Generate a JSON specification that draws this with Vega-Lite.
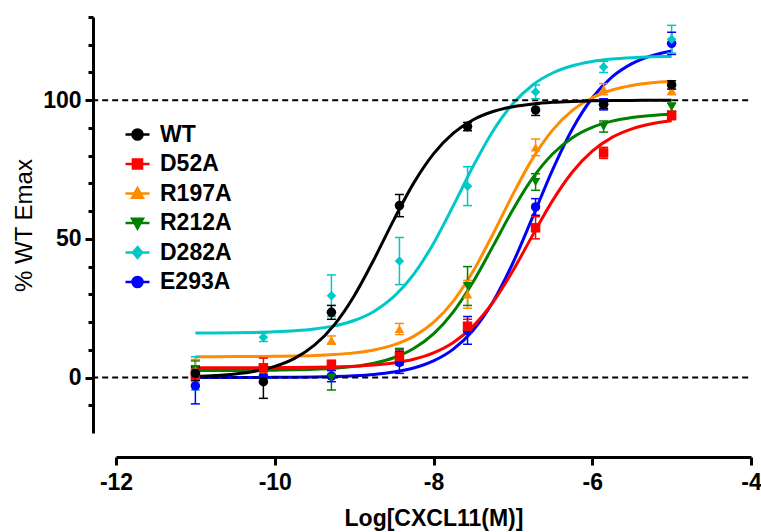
{
  "$schema": "https://vega.github.io/schema/vega-lite/v6.json",
  "width": 635,
  "height": 416,
  "autosize": "none",
  "padding": {"left": 116, "top": 17, "right": 10, "bottom": 99},
  "background": "white",
  "config": {"view": {"stroke": null}, "font": "Liberation Sans", "axis": {"labelOverlap": false}},
  "datasets": {
    "curves": [
      {"series":"E293A","x":-11,"y":0.01},{"series":"E293A","x":-10.75,"y":0.01},{"series":"E293A","x":-10.5,"y":0.02},{"series":"E293A","x":-10.25,"y":0.04},{"series":"E293A","x":-10,"y":0.06},{"series":"E293A","x":-9.75,"y":0.11},{"series":"E293A","x":-9.5,"y":0.2},{"series":"E293A","x":-9.25,"y":0.35},{"series":"E293A","x":-9,"y":0.63},{"series":"E293A","x":-8.75,"y":1.11},{"series":"E293A","x":-8.5,"y":1.96},{"series":"E293A","x":-8.25,"y":3.44},{"series":"E293A","x":-8,"y":5.99},{"series":"E293A","x":-7.75,"y":10.24},{"series":"E293A","x":-7.5,"y":17.08},{"series":"E293A","x":-7.25,"y":27.35},{"series":"E293A","x":-7,"y":41.3},{"series":"E293A","x":-6.75,"y":57.92},{"series":"E293A","x":-6.5,"y":74.88},{"series":"E293A","x":-6.25,"y":89.63},{"series":"E293A","x":-6,"y":100.8},{"series":"E293A","x":-5.75,"y":108.38},{"series":"E293A","x":-5.5,"y":113.18},{"series":"E293A","x":-5.25,"y":116.06},{"series":"E293A","x":-5,"y":117.76},
      {"series":"D282A","x":-11,"y":16.05},{"series":"D282A","x":-10.75,"y":16.09},{"series":"D282A","x":-10.5,"y":16.15},{"series":"D282A","x":-10.25,"y":16.27},{"series":"D282A","x":-10,"y":16.48},{"series":"D282A","x":-9.75,"y":16.84},{"series":"D282A","x":-9.5,"y":17.49},{"series":"D282A","x":-9.25,"y":18.62},{"series":"D282A","x":-9,"y":20.57},{"series":"D282A","x":-8.75,"y":23.84},{"series":"D282A","x":-8.5,"y":29.15},{"series":"D282A","x":-8.25,"y":37.21},{"series":"D282A","x":-8,"y":48.37},{"series":"D282A","x":-7.75,"y":61.98},{"series":"D282A","x":-7.5,"y":76.22},{"series":"D282A","x":-7.25,"y":88.91},{"series":"D282A","x":-7,"y":98.72},{"series":"D282A","x":-6.75,"y":105.49},{"series":"D282A","x":-6.5,"y":109.8},{"series":"D282A","x":-6.25,"y":112.42},{"series":"D282A","x":-6,"y":113.95},{"series":"D282A","x":-5.75,"y":114.84},{"series":"D282A","x":-5.5,"y":115.34},{"series":"D282A","x":-5.25,"y":115.63},{"series":"D282A","x":-5,"y":115.79},
      {"series":"R212A","x":-11,"y":2.52},{"series":"R212A","x":-10.75,"y":2.53},{"series":"R212A","x":-10.5,"y":2.55},{"series":"R212A","x":-10.25,"y":2.59},{"series":"R212A","x":-10,"y":2.65},{"series":"R212A","x":-9.75,"y":2.77},{"series":"R212A","x":-9.5,"y":2.99},{"series":"R212A","x":-9.25,"y":3.36},{"series":"R212A","x":-9,"y":4.02},{"series":"R212A","x":-8.75,"y":5.17},{"series":"R212A","x":-8.5,"y":7.14},{"series":"R212A","x":-8.25,"y":10.44},{"series":"R212A","x":-8,"y":15.74},{"series":"R212A","x":-7.75,"y":23.69},{"series":"R212A","x":-7.5,"y":34.51},{"series":"R212A","x":-7.25,"y":47.39},{"series":"R212A","x":-7,"y":60.53},{"series":"R212A","x":-6.75,"y":71.96},{"series":"R212A","x":-6.5,"y":80.62},{"series":"R212A","x":-6.25,"y":86.5},{"series":"R212A","x":-6,"y":90.22},{"series":"R212A","x":-5.75,"y":92.45},{"series":"R212A","x":-5.5,"y":93.76},{"series":"R212A","x":-5.25,"y":94.51},{"series":"R212A","x":-5,"y":94.94},
      {"series":"R197A","x":-11,"y":7.51},{"series":"R197A","x":-10.75,"y":7.53},{"series":"R197A","x":-10.5,"y":7.54},{"series":"R197A","x":-10.25,"y":7.58},{"series":"R197A","x":-10,"y":7.64},{"series":"R197A","x":-9.75,"y":7.75},{"series":"R197A","x":-9.5,"y":7.95},{"series":"R197A","x":-9.25,"y":8.29},{"series":"R197A","x":-9,"y":8.89},{"series":"R197A","x":-8.75,"y":9.95},{"series":"R197A","x":-8.5,"y":11.78},{"series":"R197A","x":-8.25,"y":14.86},{"series":"R197A","x":-8,"y":19.88},{"series":"R197A","x":-7.75,"y":27.58},{"series":"R197A","x":-7.5,"y":38.38},{"series":"R197A","x":-7.25,"y":51.77},{"series":"R197A","x":-7,"y":66.05},{"series":"R197A","x":-6.75,"y":79.03},{"series":"R197A","x":-6.5,"y":89.21},{"series":"R197A","x":-6.25,"y":96.32},{"series":"R197A","x":-6,"y":100.89},{"series":"R197A","x":-5.75,"y":103.67},{"series":"R197A","x":-5.5,"y":105.31},{"series":"R197A","x":-5.25,"y":106.26},{"series":"R197A","x":-5,"y":106.8},
      {"series":"D52A","x":-11,"y":3.51},{"series":"D52A","x":-10.75,"y":3.51},{"series":"D52A","x":-10.5,"y":3.52},{"series":"D52A","x":-10.25,"y":3.53},{"series":"D52A","x":-10,"y":3.56},{"series":"D52A","x":-9.75,"y":3.6},{"series":"D52A","x":-9.5,"y":3.68},{"series":"D52A","x":-9.25,"y":3.82},{"series":"D52A","x":-9,"y":4.07},{"series":"D52A","x":-8.75,"y":4.5},{"series":"D52A","x":-8.5,"y":5.27},{"series":"D52A","x":-8.25,"y":6.6},{"series":"D52A","x":-8,"y":8.87},{"series":"D52A","x":-7.75,"y":12.63},{"series":"D52A","x":-7.5,"y":18.55},{"series":"D52A","x":-7.25,"y":27.2},{"series":"D52A","x":-7,"y":38.51},{"series":"D52A","x":-6.75,"y":51.35},{"series":"D52A","x":-6.5,"y":63.78},{"series":"D52A","x":-6.25,"y":74.1},{"series":"D52A","x":-6,"y":81.62},{"series":"D52A","x":-5.75,"y":86.6},{"series":"D52A","x":-5.5,"y":89.68},{"series":"D52A","x":-5.25,"y":91.52},{"series":"D52A","x":-5,"y":92.59},
      {"series":"WT","x":-11,"y":0.42},{"series":"WT","x":-10.75,"y":0.74},{"series":"WT","x":-10.5,"y":1.3},{"series":"WT","x":-10.25,"y":2.29},{"series":"WT","x":-10,"y":4.0},{"series":"WT","x":-9.75,"y":6.9},{"series":"WT","x":-9.5,"y":11.65},{"series":"WT","x":-9.25,"y":18.99},{"series":"WT","x":-9,"y":29.42},{"series":"WT","x":-8.75,"y":42.57},{"series":"WT","x":-8.5,"y":56.86},{"series":"WT","x":-8.25,"y":70.1},{"series":"WT","x":-8,"y":80.65},{"series":"WT","x":-7.75,"y":88.11},{"series":"WT","x":-7.5,"y":92.95},{"series":"WT","x":-7.25,"y":95.91},{"series":"WT","x":-7,"y":97.66},{"series":"WT","x":-6.75,"y":98.67},{"series":"WT","x":-6.5,"y":99.25},{"series":"WT","x":-6.25,"y":99.57},{"series":"WT","x":-6,"y":99.76},{"series":"WT","x":-5.75,"y":99.87},{"series":"WT","x":-5.5,"y":99.92},{"series":"WT","x":-5.25,"y":99.96},{"series":"WT","x":-5,"y":99.98}
    ],
    "points": [
      {"series":"E293A","x":-11,"y":-3,"lo":-9.5,"hi":3.5},{"series":"E293A","x":-10.143,"y":0.5,"lo":-1.5,"hi":2.5},{"series":"E293A","x":-9.286,"y":0.5,"lo":-1.5,"hi":2.5},{"series":"E293A","x":-8.429,"y":5.5,"lo":1.5,"hi":9.5},{"series":"E293A","x":-7.571,"y":17,"lo":12,"hi":22},{"series":"E293A","x":-6.714,"y":61.5,"lo":58.5,"hi":64.5},{"series":"E293A","x":-5.857,"y":98.5,"lo":96.5,"hi":100.5},{"series":"E293A","x":-5,"y":120.5,"lo":116.5,"hi":124.5},
      {"series":"D282A","x":-11,"y":1.5,"lo":-4.5,"hi":7.5},{"series":"D282A","x":-10.143,"y":14.5,"lo":13,"hi":16},{"series":"D282A","x":-9.286,"y":29.5,"lo":22,"hi":37},{"series":"D282A","x":-8.429,"y":42,"lo":33.5,"hi":50.5},{"series":"D282A","x":-7.571,"y":69,"lo":62,"hi":76},{"series":"D282A","x":-6.714,"y":103,"lo":100.5,"hi":105.5},{"series":"D282A","x":-5.857,"y":112,"lo":110,"hi":114},{"series":"D282A","x":-5,"y":122,"lo":117,"hi":127},
      {"series":"R212A","x":-11,"y":3,"lo":0,"hi":6},{"series":"R212A","x":-10.143,"y":2.5,"lo":0.5,"hi":4.5},{"series":"R212A","x":-9.286,"y":0,"lo":-4.5,"hi":4.5},{"series":"R212A","x":-8.429,"y":7.5,"lo":4.5,"hi":10.5},{"series":"R212A","x":-7.571,"y":33,"lo":26,"hi":40},{"series":"R212A","x":-6.714,"y":70.5,"lo":67.5,"hi":73.5},{"series":"R212A","x":-5.857,"y":90.5,"lo":88.5,"hi":92.5},{"series":"R212A","x":-5,"y":97.5,"lo":96,"hi":99},
      {"series":"R197A","x":-11,"y":2.5,"lo":-1.5,"hi":6.5},{"series":"R197A","x":-10.143,"y":3,"lo":1,"hi":5},{"series":"R197A","x":-9.286,"y":13.5,"lo":12,"hi":15},{"series":"R197A","x":-8.429,"y":17.5,"lo":15.5,"hi":19.5},{"series":"R197A","x":-7.571,"y":30,"lo":25,"hi":35},{"series":"R197A","x":-6.714,"y":83,"lo":80,"hi":86},{"series":"R197A","x":-5.857,"y":104,"lo":102,"hi":106},{"series":"R197A","x":-5,"y":103.5,"lo":102,"hi":105},
      {"series":"D52A","x":-11,"y":1,"lo":-1,"hi":3},{"series":"D52A","x":-10.143,"y":3.5,"lo":0,"hi":7},{"series":"D52A","x":-9.286,"y":4.7,"lo":3.2,"hi":6.2},{"series":"D52A","x":-8.429,"y":7.5,"lo":5,"hi":10},{"series":"D52A","x":-7.571,"y":18.5,"lo":16,"hi":21},{"series":"D52A","x":-6.714,"y":54,"lo":50,"hi":58},{"series":"D52A","x":-5.857,"y":81,"lo":79,"hi":83},{"series":"D52A","x":-5,"y":94.5,"lo":93,"hi":96},
      {"series":"WT","x":-11,"y":1.5,"lo":-1,"hi":4},{"series":"WT","x":-10.143,"y":-1.5,"lo":-7.5,"hi":4.5},{"series":"WT","x":-9.286,"y":23.5,"lo":21,"hi":26},{"series":"WT","x":-8.429,"y":62,"lo":58,"hi":66},{"series":"WT","x":-7.571,"y":90.5,"lo":89,"hi":92},{"series":"WT","x":-6.714,"y":96.5,"lo":94.5,"hi":98.5},{"series":"WT","x":-5.857,"y":98.5,"lo":97,"hi":100},{"series":"WT","x":-5,"y":105.5,"lo":104,"hi":107}
    ],
    "refs": [{"v": 0}, {"v": 100}]
  },
  "layer": [
    {
      "data": {"name": "curves"},
      "mark": {"type": "line", "interpolate": "monotone", "strokeWidth": 3},
      "encoding": {
        "x": {"field": "x", "type": "quantitative",
          "scale": {"domain": [-12, -4], "nice": false, "zero": false},
          "axis": {"values": [-12, -10, -8, -6, -4], "tickCount": 20, "labelExpr": "'' + datum.value", "offset": 24,
            "domainWidth": 3, "domainColor": "black", "tickWidth": 3, "tickColor": "black", "tickSize": 8,
            "labelFontSize": 23, "labelFontWeight": "bold", "labelColor": "black", "labelPadding": 6,
            "labelFlush": false, "labelOverlap": false, "grid": false,
            "title": "Log[CXCL11(M)]", "titleFontSize": 23, "titleFontWeight": "bold", "titleColor": "black", "titlePadding": 13}},
        "y": {"field": "y", "type": "quantitative",
          "scale": {"domain": [-20, 130], "nice": false, "zero": false},
          "axis": {"values": [-10, 0, 10, 20, 30, 40, 50, 60, 70, 80, 90, 100, 110, 120, 130], "tickCount": 40,
            "labelExpr": "datum.value % 50 === 0 ? datum.label : ''", "offset": 23,
            "domainWidth": 3, "domainColor": "black", "tickWidth": 3, "tickColor": "black",
            "tickSize": {"condition": {"test": "datum.value % 50 === 0", "value": 8}, "value": 5},
            "labelFontSize": {"condition": {"test": "datum.value % 50 === 0", "value": 23}, "value": 1},
            "labelFontWeight": "bold", "labelColor": "black", "labelPadding": 4,
            "labelOverlap": false, "labelFlush": false, "grid": false,
            "title": "% WT Emax", "titleFontSize": 24, "titleFontWeight": "normal", "titleColor": "black", "titlePadding": 6}},
        "color": {"field": "series", "type": "nominal",
          "scale": {"domain": ["WT", "D52A", "R197A", "R212A", "D282A", "E293A"],
            "range": ["#000000", "#ff0000", "#ff8c00", "#008000", "#00c8c8", "#0000ff"]},
          "legend": null}
      }
    },
    {
      "data": {"name": "refs"},
      "mark": {"type": "rule", "strokeDash": [6, 4], "strokeWidth": 2, "color": "black", "clip": false},
      "encoding": {
        "y": {"field": "v", "type": "quantitative"},
        "x": {"datum": -12.3, "type": "quantitative"},
        "x2": {"datum": -4}
      }
    },
    {
      "data": {"name": "points"},
      "mark": {"type": "rule", "strokeWidth": 1.5, "opacity": 1},
      "encoding": {
        "x": {"field": "x", "type": "quantitative"},
        "y": {"field": "lo", "type": "quantitative"},
        "y2": {"field": "hi"},
        "color": {"field": "series", "type": "nominal", "legend": null}
      }
    },
    {
      "data": {"name": "points"},
      "mark": {"type": "tick", "orient": "horizontal", "size": 9, "thickness": 1.5, "opacity": 1},
      "encoding": {
        "x": {"field": "x", "type": "quantitative"},
        "y": {"field": "lo", "type": "quantitative"},
        "color": {"field": "series", "type": "nominal", "legend": null}
      }
    },
    {
      "data": {"name": "points"},
      "mark": {"type": "tick", "orient": "horizontal", "size": 9, "thickness": 1.5, "opacity": 1},
      "encoding": {
        "x": {"field": "x", "type": "quantitative"},
        "y": {"field": "hi", "type": "quantitative"},
        "color": {"field": "series", "type": "nominal", "legend": null}
      }
    },
    {
      "data": {"name": "points"},
      "mark": {"type": "point", "filled": true, "opacity": 1, "size": 90},
      "encoding": {
        "x": {"field": "x", "type": "quantitative"},
        "y": {"field": "y", "type": "quantitative"},
        "color": {"field": "series", "type": "nominal", "legend": null},
        "shape": {"field": "series", "type": "nominal",
          "scale": {"domain": ["WT", "D52A", "R197A", "R212A", "D282A", "E293A"],
            "range": ["circle", "square", "triangle-up", "triangle-down", "diamond", "circle"]},
          "legend": null}
      }
    },
    {
      "data": {"name": "points"},
      "transform": [{"filter": "false"}],
      "mark": {"type": "point", "filled": true, "opacity": 1, "strokeWidth": 2.5},
      "encoding": {
        "x": {"field": "x", "type": "quantitative"},
        "y": {"field": "y", "type": "quantitative"},
        "fill": {"field": "series", "type": "nominal",
          "scale": {"domain": ["WT", "D52A", "R197A", "R212A", "D282A", "E293A"],
            "range": ["#000000", "#ff0000", "#ff8c00", "#008000", "#00c8c8", "#0000ff"]},
          "legend": {"title": null, "orient": "none", "legendX": 8, "legendY": 104, "symbolSize": 576, "symbolStrokeWidth": 2.5, "labelFontSize": 23, "labelFontWeight": "bold", "labelColor": "black", "labelOffset": 9, "rowPadding": 3.5, "padding": 0, "symbolOpacity": 1}},
        "stroke": {"field": "series", "type": "nominal",
          "scale": {"domain": ["WT", "D52A", "R197A", "R212A", "D282A", "E293A"],
            "range": ["#000000", "#ff0000", "#ff8c00", "#008000", "#00c8c8", "#0000ff"]},
          "legend": {"title": null, "orient": "none", "legendX": 8, "legendY": 104, "symbolSize": 576, "symbolStrokeWidth": 2.5, "labelFontSize": 23, "labelFontWeight": "bold", "labelColor": "black", "labelOffset": 9, "rowPadding": 3.5, "padding": 0, "symbolOpacity": 1}},
        "shape": {"field": "series", "type": "nominal",
          "scale": {"domain": ["WT", "D52A", "R197A", "R212A", "D282A", "E293A"],
            "range": [
              "M-1,0H1M0.42,0A0.42,0.42,0,1,1,-0.42,0A0.42,0.42,0,1,1,0.42,0Z",
              "M-1,0H1M-0.38,-0.38H0.38V0.38H-0.38Z",
              "M-1,0H1M0,-0.45L0.45,0.35H-0.45Z",
              "M-1,0H1M0,0.45L0.45,-0.35H-0.45Z",
              "M-1,0H1M0,-0.45L0.38,0L0,0.45L-0.38,0Z",
              "M-1,0H1M0.42,0A0.42,0.42,0,1,1,-0.42,0A0.42,0.42,0,1,1,0.42,0Z"
            ]},
          "legend": {"title": null, "orient": "none", "legendX": 8, "legendY": 104, "symbolSize": 576, "symbolStrokeWidth": 2.5, "labelFontSize": 23, "labelFontWeight": "bold", "labelColor": "black", "labelOffset": 9, "rowPadding": 3.5, "padding": 0, "symbolOpacity": 1}}
      }
    }
  ],
  "resolve": {"scale": {"shape": "independent", "fill": "independent", "stroke": "independent"}}
}
